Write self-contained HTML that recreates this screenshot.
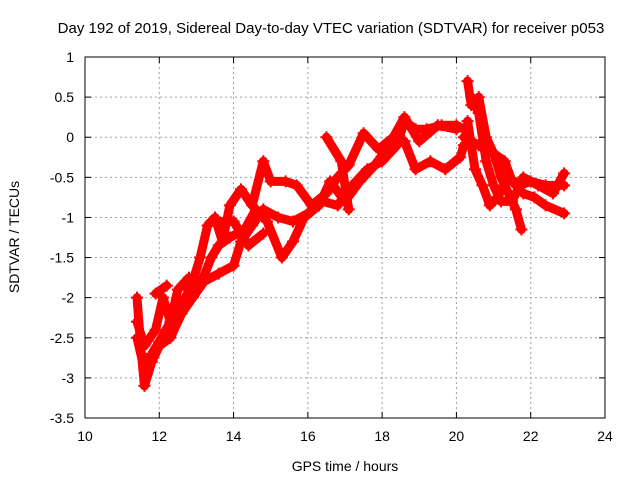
<!DOCTYPE html>
<html><head><meta charset="utf-8"><style>
body{margin:0;background:#fff}
svg text{font-family:"Liberation Sans",sans-serif;font-size:14px;fill:#000}
</style></head><body>
<svg id="chart" width="640" height="480">
<text x="331" y="33" text-anchor="middle" style="font-size:15px">Day 192 of 2019, Sidereal Day-to-day VTEC variation (SDTVAR) for receiver p053</text>
<text x="345" y="471" text-anchor="middle">GPS time / hours</text>
<text transform="translate(19,237) rotate(-90)" text-anchor="middle">SDTVAR / TECUs</text>
<g id="grid"></g><g id="ticks"></g><g id="series"></g>
<rect x="85" y="57" width="520" height="361" fill="none" stroke="#000"/>
</svg>
<script>
const xTicks=[10,12,14,16,18,20,22,24];
const yTicks=[1,0.5,0,-0.5,-1,-1.5,-2,-2.5,-3,-3.5];
const t1=[[11.4,-2.0],[11.5,-2.6],[11.6,-3.1],[11.8,-2.8],[12.0,-2.6],[12.3,-2.5],[12.6,-2.2],[12.9,-2.0],[13.2,-1.8],[13.6,-1.7],[14.0,-1.6],[14.2,-1.3],[14.5,-1.1],[14.8,-0.9],[15.2,-1.0],[15.6,-1.05],[16.0,-0.95],[16.4,-0.8],[16.8,-0.85],[17.2,-0.6],[17.6,-0.4],[18.0,-0.3],[18.4,-0.1],[18.6,0.2],[18.9,0.1],[19.2,0.1],[19.6,0.15],[20.0,0.15],[20.2,0.1]];
const t2=[[11.4,-2.5],[11.6,-2.9],[11.8,-2.7],[12.0,-2.55],[12.3,-2.3],[12.5,-1.9],[12.8,-1.75],[13.1,-1.85],[13.4,-1.5],[13.6,-1.35],[13.9,-1.25],[14.3,-1.15],[14.6,-0.9],[14.9,-1.05],[15.3,-1.5],[15.6,-1.3],[15.9,-1.0],[16.3,-0.85],[16.6,-0.55],[17.0,-0.8],[17.4,-0.55],[17.8,-0.35],[18.2,-0.1],[18.6,-0.05],[18.9,-0.4],[19.3,-0.3],[19.7,-0.4],[20.1,-0.25],[20.2,-0.1]];
const t3=[[11.4,-2.3],[11.6,-2.6],[11.9,-2.4],[12.1,-2.0],[12.3,-2.3],[12.6,-2.1],[12.9,-1.8],[13.1,-1.5],[13.3,-1.1],[13.5,-1.0],[13.7,-1.3],[13.9,-0.85],[14.2,-0.65],[14.5,-0.85],[14.8,-0.3],[15.0,-0.55],[15.4,-0.55],[15.7,-0.6],[16.1,-0.85],[16.5,-0.7],[16.8,-0.5],[17.1,-0.35],[17.5,0.05],[17.9,-0.15],[18.3,0.0],[18.6,0.25],[19.0,-0.05],[19.5,0.15],[20.0,0.1]];
const t4=[[11.9,-1.95],[12.2,-1.85]];
const t5=[[13.4,-1.05],[14.0,-1.05],[14.4,-1.35],[14.8,-1.2]];
const t6=[[16.5,0.0],[16.9,-0.3],[17.1,-0.9]];
const t7=[[20.3,0.7],[20.4,0.4],[20.6,0.5],[20.8,0.0],[21.0,-0.2],[21.2,-0.5],[21.4,-0.7],[21.6,-0.9],[21.75,-1.15]];
const t8=[[20.4,0.5],[20.6,0.3],[20.8,-0.3],[21.0,-0.6],[21.2,-0.8],[21.5,-0.8],[21.8,-0.5],[22.2,-0.6],[22.6,-0.7],[22.9,-0.45]];
const t9=[[20.2,0.0],[20.6,-0.1],[21.0,-0.2],[21.3,-0.3],[21.5,-0.55],[21.8,-0.7],[22.1,-0.75],[22.4,-0.85],[22.9,-0.95]];
const t10=[[20.3,0.2],[20.5,-0.4],[20.7,-0.6],[20.9,-0.85],[21.1,-0.75],[21.4,-0.5],[21.7,-0.6],[22.0,-0.55],[22.4,-0.6],[22.9,-0.6]];
const tracks=[t1,t2,t3,t4,t5,t6,t7,t8,t9,t10];
const NS="http://www.w3.org/2000/svg";
const X=h=>85+(h-10)*520/14, Y=v=>57+(1-v)*361/4.5;
function mk(tag,attrs,parent){const e=document.createElementNS(NS,tag);for(const k in attrs)e.setAttribute(k,attrs[k]);parent.appendChild(e);return e;}
const g=document.getElementById('grid'),tk=document.getElementById('ticks'),s=document.getElementById('series');
xTicks.forEach(v=>{const x=X(v);
 if(v>10&&v<24){const l=mk('line',{x1:x,x2:x,y1:57,y2:418,stroke:'#a0a0a0','stroke-dasharray':'2,3'},g);
 
 }
 mk('line',{x1:x,x2:x,y1:418,y2:412,stroke:'#000'},tk);mk('line',{x1:x,x2:x,y1:57,y2:63,stroke:'#000'},tk);
 const t=mk('text',{x:x,y:441,'text-anchor':'middle'},tk);t.textContent=v;
 
 });
yTicks.forEach(v=>{const y=Y(v);
 if(v<1&&v>-3.5){const l=mk('line',{x1:85,x2:605,y1:y,y2:y,stroke:'#a0a0a0','stroke-dasharray':'2,3'},g);
 
 }
 mk('line',{x1:85,x2:91,y1:y,y2:y,stroke:'#000'},tk);mk('line',{x1:605,x2:599,y1:y,y2:y,stroke:'#000'},tk);
 const t=mk('text',{x:74,y:y+5,'text-anchor':'end'},tk);t.textContent=v;
 
 });
tracks.forEach((tr,i)=>{
 const p=mk('polyline',{points:tr.map(d=>X(d[0])+','+Y(d[1])).join(' '),fill:'none',stroke:'#ff0000','stroke-width':9,'stroke-linejoin':'round','stroke-linecap':'round'},s);
 
 
 tr.forEach(d=>{const x=X(d[0]),y=Y(d[1]);
  const m=mk('path',{d:`M${x-6},${y}H${x+6}M${x},${y-6}V${y+6}`,stroke:'#ff0000','stroke-width':2},s);
  
  });
});
</script>
</body></html>
